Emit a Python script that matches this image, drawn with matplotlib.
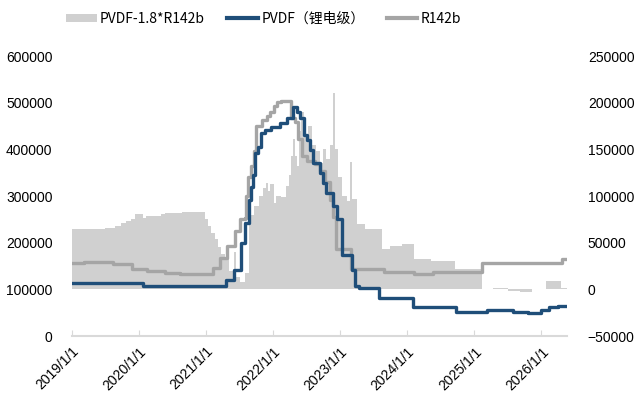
import matplotlib
matplotlib.use("Agg")
import matplotlib.pyplot as plt
import matplotlib.dates as mdates
from matplotlib.patches import Patch
from matplotlib.lines import Line2D
import pandas as pd

plt.rcParams['font.family'] = ['Liberation Sans', 'Noto Sans CJK SC', 'DejaVu Sans']

# PVDF（锂电级），左轴
pvdf_dates = ["2019-01-01", "2020-01-22", "2021-04-20", "2021-06-01", "2021-07-08",
              "2021-08-03", "2021-08-22", "2021-09-01", "2021-09-12", "2021-09-22",
              "2021-10-10", "2021-10-28", "2021-11-20", "2021-12-20", "2022-02-05",
              "2022-03-15", "2022-04-20", "2022-05-12", "2022-05-27", "2022-06-17",
              "2022-07-05", "2022-07-20", "2022-08-08", "2022-09-13", "2022-10-01",
              "2022-10-15", "2022-11-25", "2022-12-15", "2023-01-10", "2023-03-05",
              "2023-03-20", "2023-04-12", "2023-08-01", "2024-02-02", "2024-09-24",
              "2025-03-12", "2025-07-31", "2025-10-20", "2026-01-01", "2026-02-10",
              "2026-04-01", "2026-05-20"]
pvdf_vals = [114000, 108000, 120000, 142000, 200000,
             243000, 292000, 320000, 345000, 393000,
             405000, 436000, 442000, 449000, 457000,
             468000, 492000, 481000, 468000, 431000,
             420000, 399000, 371000, 350000, 328000,
             307000, 278000, 250000, 174000, 142000,
             107000, 103000, 81500, 62000, 52000,
             56000, 52000, 48700, 55800, 62000,
             64000, 64000]

# R142b，右轴
r142_dates = ["2019-01-01", "2019-03-10", "2019-08-10", "2019-11-25", "2020-02-12",
              "2020-05-20", "2020-08-10", "2021-01-05", "2021-02-05", "2021-03-17",
              "2021-04-22", "2021-06-05", "2021-07-05", "2021-07-31", "2021-08-08",
              "2021-08-19", "2021-09-03", "2021-09-20", "2021-10-02", "2021-11-03",
              "2021-11-26", "2021-12-15", "2022-01-03", "2022-01-22", "2022-02-10",
              "2022-04-08", "2022-04-30", "2022-05-15", "2022-06-06", "2022-07-02",
              "2022-08-17", "2022-09-14", "2022-10-12", "2022-11-07", "2022-11-25",
              "2022-12-08", "2023-02-28", "2023-08-26", "2024-02-06", "2024-05-22",
              "2025-02-14", "2026-04-25", "2026-05-20"]
r142_vals = [28600, 29700, 26800, 21500, 19600,
             17500, 16100, 16100, 23300, 34000,
             46500, 62600, 75100, 77000, 100000,
             120000, 132000, 148000, 175000, 182000,
             186000, 190000, 196700, 201000, 202000,
             184000, 179000, 161000, 143000, 137700,
             134000, 127000, 115000, 96000, 78000,
             43000, 21500, 18600, 16100, 18200,
             28600, 33000, 33000]

# PVDF-1.8*R142b，右轴
spread_dates = ["2019-01-01", "2019-06-28", "2019-08-22", "2019-09-27", "2019-10-24",
                "2019-11-20", "2019-12-10", "2020-01-23", "2020-02-10", "2020-05-02",
                "2020-05-22", "2020-08-21", "2020-12-25", "2021-01-11", "2021-01-26",
                "2021-02-17", "2021-03-06", "2021-03-22", "2021-04-12", "2021-05-08",
                "2021-05-30", "2021-06-15", "2021-07-05", "2021-08-01", "2021-08-22",
                "2021-09-20", "2021-10-16", "2021-11-07", "2021-11-24", "2021-12-06",
                "2021-12-16", "2022-01-03", "2022-01-18", "2022-02-14", "2022-03-13",
                "2022-03-30", "2022-04-09", "2022-04-20", "2022-05-01", "2022-05-12",
                "2022-05-23", "2022-06-03", "2022-06-18", "2022-07-10", "2022-08-01",
                "2022-08-22", "2022-09-13", "2022-09-30", "2022-10-16", "2022-11-08",
                "2022-11-24", "2022-12-06", "2022-12-20", "2023-01-10", "2023-02-07",
                "2023-02-24", "2023-03-06", "2023-04-03", "2023-05-18", "2023-08-16",
                "2023-10-01", "2023-12-03", "2024-02-06", "2024-05-08", "2024-09-20",
                "2025-02-14", "2025-04-15", "2025-05-22", "2025-07-05", "2025-09-08",
                "2025-11-13", "2026-01-27", "2026-04-15", "2026-05-20"]
spread_vals = [64400, 66200, 68000, 70800, 73300,
               75100, 80500, 77000, 78700, 80500,
               82300, 83000, 75100, 68000, 60800,
               53600, 45000, 37500, 32200, 19600,
               40000, 12900, 7500, 18000, 80000,
               89000, 100000, 109000, 114500, 105000,
               112700, 93000, 100000, 98500, 110700,
               123000, 143000, 161000, 143000, 132000,
               170000, 190000, 165000, 175000, 155000,
               148000, 135000, 150000, 140000, 155000,
               211000, 150000, 120000, 100000, 95000,
               137000, 97000, 69700, 64400, 42900,
               46500, 48300, 32200, 30400, 21500,
               0, 2000, 1000, -1500, -3000,
               0, 9000, 1800, 1800]

pvdf_x = pd.to_datetime(pvdf_dates)
r142_x = pd.to_datetime(r142_dates)
spread_x = pd.to_datetime(spread_dates)

c_area = '#d0d0d0'
c_pvdf = '#1f4e79'
c_r142 = '#a5a5a5'

fig = plt.figure(figsize=(6.37, 4.01), dpi=100)
ax = fig.add_axes([0.113, 0.162, 0.777, 0.698])
ax2 = ax.twinx()

ax2.fill_between(spread_x, 0, spread_vals, step='post', color=c_area, linewidth=0)
ax2.plot(r142_x, r142_vals, drawstyle='steps-post', color=c_r142, linewidth=2.4)
ax.plot(pvdf_x, pvdf_vals, drawstyle='steps-post', color=c_pvdf, linewidth=2.4)

ax.set_zorder(ax2.get_zorder() + 1)
ax.patch.set_visible(False)

ax.set_xlim(pd.Timestamp("2019-01-01"), pd.Timestamp("2026-05-20"))
ax.set_ylim(0, 600000)
ax2.set_ylim(-50000, 250000)
ax.set_yticks(range(0, 600001, 100000))
ax2.set_yticks(range(-50000, 250001, 50000))

ax.xaxis.set_major_locator(mdates.YearLocator())
ax.xaxis.set_major_formatter(mdates.DateFormatter('%Y/1/1'))
for lab in ax.get_xticklabels():
    lab.set_rotation(45)
    lab.set_ha('right')
    lab.set_rotation_mode('anchor')

for a in (ax, ax2):
    for s in ('top', 'left', 'right', 'bottom'):
        a.spines[s].set_visible(False)
ax.spines['bottom'].set_visible(True)
ax.spines['bottom'].set_color('#d9d9d9')
ax.spines['bottom'].set_linewidth(1.5)

ax.tick_params(axis='x', direction='in', length=4, color='#d9d9d9', labelsize=10, pad=6)
ax.tick_params(axis='y', length=0, labelsize=10, pad=14)
ax2.tick_params(axis='y', length=0, labelsize=10, pad=15)

handles = [Patch(facecolor=c_area, edgecolor='none'),
           Line2D([], [], color=c_pvdf, linewidth=3),
           Line2D([], [], color=c_r142, linewidth=3)]
labels = ['PVDF-1.8*R142b', 'PVDF（锂电级）', 'R142b']
fig.legend(handles, labels, loc='center', bbox_to_anchor=(0.414, 0.953), ncol=3,
           frameon=False, prop={'family': ['Noto Sans CJK SC', 'DejaVu Sans'], 'size': 10},
           handlelength=2.2, handleheight=0.55, handletextpad=0.25, columnspacing=1.6,
           borderpad=0.2)

fig.savefig('out.png', dpi=100)
